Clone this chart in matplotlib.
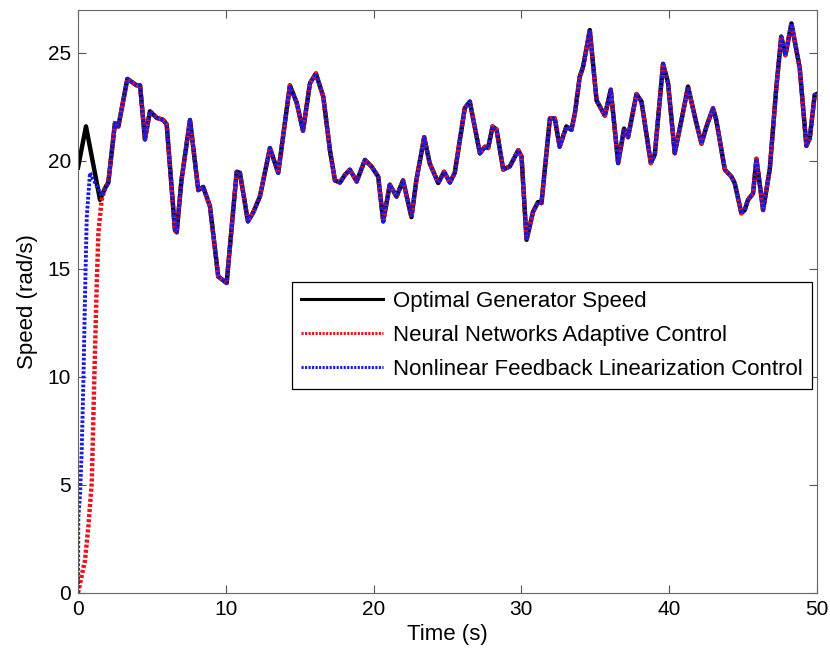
import matplotlib.pyplot as plt
import numpy as np

plt.rcParams['font.family'] = ['Liberation Sans', 'DejaVu Sans']

# Optimal generator speed (time s, speed rad/s)
t_opt = [0.0, 0.54, 1.49, 1.83, 2.05, 2.5, 2.73, 3.34, 3.97, 4.2, 4.53, 4.87,
         5.32, 5.77, 6.0, 6.56, 6.68, 7.0, 7.58, 8.14, 8.47, 8.93, 9.49, 10.06,
         10.74, 10.96, 11.5, 11.85, 12.31, 12.99, 13.55, 14.34, 14.8, 15.23, 15.7,
         16.1, 16.6, 17.05, 17.39, 17.73, 18.06, 18.4, 18.86, 19.42, 19.87, 20.32,
         20.66, 21.1, 21.56, 22.0, 22.57, 22.9, 23.43, 23.8, 24.38, 24.78, 25.17,
         25.5, 26.18, 26.52, 27.2, 27.54, 27.76, 28.06, 28.33, 28.78, 29.23, 29.8,
         30.02, 30.36, 30.8, 31.14, 31.37, 31.94, 32.27, 32.6, 33.06, 33.4, 33.63,
         33.96, 34.19, 34.64, 35.1, 35.66, 36.06, 36.56, 36.96, 37.23, 37.8, 38.14,
         38.77, 39.04, 39.6, 39.94, 40.39, 40.85, 41.29, 41.75, 42.2, 42.54, 42.98,
         43.2, 43.78, 44.23, 44.45, 44.9, 45.13, 45.35, 45.69, 45.92, 46.37, 46.82,
         47.27, 47.6, 47.88, 48.29, 48.85, 49.3, 49.53, 49.86, 50.0]
v_opt = [19.7, 21.6, 18.2, 18.75, 19.0, 21.75, 21.6, 23.8, 23.5, 23.5, 21.0, 22.3,
         22.0, 21.9, 21.7, 16.8, 16.7, 19.1, 21.9, 18.65, 18.8, 17.9, 14.65, 14.35,
         19.5, 19.45, 17.2, 17.6, 18.35, 20.6, 19.45, 23.5, 22.7, 21.4, 23.6,
         24.05, 22.98, 20.5, 19.1, 19.0, 19.35, 19.6, 19.05, 20.05, 19.74, 19.27,
         17.2, 18.9, 18.35, 19.1, 17.4, 19.1, 21.1, 19.9, 18.98, 19.5, 19.0,
         19.45, 22.45, 22.75, 20.35, 20.66, 20.6, 21.6, 21.45, 19.6, 19.75, 20.5,
         20.2, 16.35, 17.65, 18.1, 18.05, 21.97, 21.97, 20.66, 21.6, 21.44, 22.2,
         23.9, 24.37, 26.06, 22.8, 22.1, 23.3, 19.9, 21.5, 21.1, 23.1, 22.75,
         19.9, 20.3, 24.5, 23.6, 20.36, 21.9, 23.44, 22.05, 20.8, 21.6, 22.44,
         21.9, 19.6, 19.27, 18.97, 17.58, 17.73, 18.2, 18.5, 20.1, 17.73, 19.6,
         23.44, 25.76, 24.9, 26.37, 24.3, 20.7, 21.05, 23.05, 23.1]

# start-up transients of the two controllers
t_nn_start = [0.0, 0.47, 0.7, 0.93, 1.04, 1.15, 1.27, 1.38, 1.6]
v_nn_start = [0.0, 1.5, 3.07, 5.1, 8.2, 11.25, 14.35, 16.7, 18.2]
t_fl_start = [0.0, 0.02, 0.14, 0.25, 0.36, 0.47, 0.59, 0.81, 1.6]
v_fl_start = [0.0, 3.5, 4.6, 6.6, 9.7, 13.6, 17.4, 19.45, 18.4]

# after start-up both controllers follow the optimal speed
t_nn = t_nn_start + t_opt[3:]
v_nn = v_nn_start + v_opt[3:]
t_fl = t_fl_start + t_opt[4:]
v_fl = v_fl_start + v_opt[4:]

fig = plt.figure(figsize=(8.3, 6.53), dpi=100)
ax = fig.add_axes([0.094, 0.092, 0.890, 0.893])

dots = (0, (0.7, 0.45))
ax.plot(t_opt, v_opt, color='black', lw=3.2, solid_joinstyle='round',
        label='Optimal Generator Speed')
ax.plot(t_nn, v_nn, color='#e8141e', lw=3.2, ls=dots,
        label='Neural Networks Adaptive Control')
ax.plot(t_fl, v_fl, color='#1a1ae0', lw=2.8, ls=dots,
        label='Nonlinear Feedback Linearization Control')

ax.set_xlim(0, 50)
ax.set_ylim(0, 27)
ax.set_xticks(np.arange(0, 51, 10))
ax.set_yticks(np.arange(0, 26, 5))
ax.tick_params(direction='in', top=True, right=True, length=6, labelsize=15,
               color='#555555', pad=5)
for s in ax.spines.values():
    s.set_color('#666666')
ax.set_xlabel('Time (s)', fontsize=16, labelpad=4)
ax.set_ylabel('Speed (rad/s)', fontsize=16, labelpad=7)

leg = ax.legend(loc='upper right', bbox_to_anchor=(0.993, 0.533), fontsize=16,
                fancybox=False, framealpha=1, edgecolor='black',
                handlelength=3.7, labelspacing=0.58, borderpad=0.4,
                handletextpad=0.45, borderaxespad=0)
leg.get_frame().set_linewidth(0.9)
for h in leg.get_lines():
    h.set_linewidth(2.2)

fig.savefig('out.png', dpi=100)
